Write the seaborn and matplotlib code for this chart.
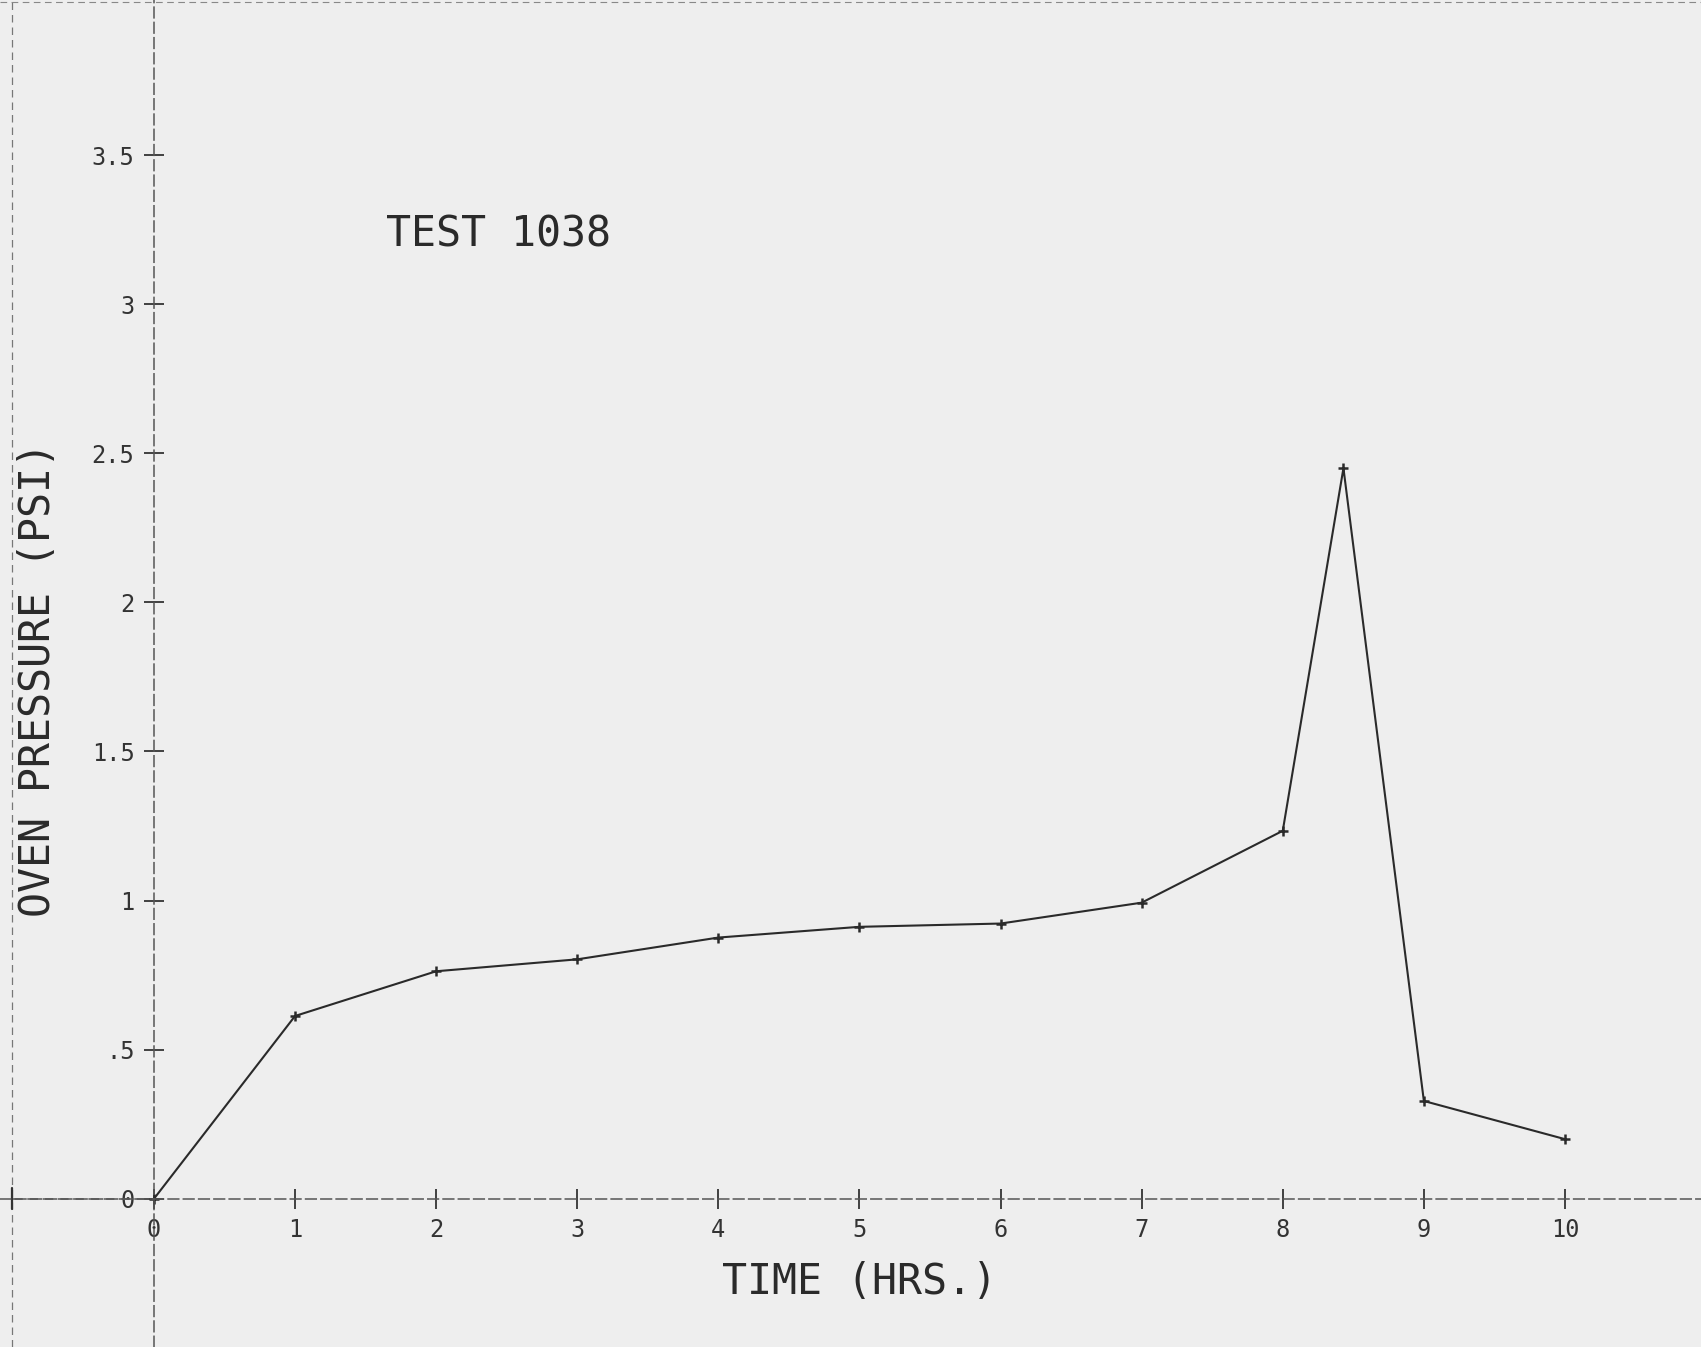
import matplotlib
matplotlib.use('Agg')
import matplotlib.pyplot as plt
import seaborn as sns
import pandas as pd

# ---- data ----
hours = [0, 1, 2, 3, 4, 5, 6, 7, 8, 8.43, 9, 10]
pressure = [0.0, 0.613, 0.763, 0.803, 0.876, 0.912, 0.923, 0.993, 1.234, 2.45, 0.328, 0.20]
x_ticks = [0, 1, 2, 3, 4, 5, 6, 7, 8, 9, 10]
x_tick_labels = ['0', '1', '2', '3', '4', '5', '6', '7', '8', '9', '10']
y_ticks = [0, 0.5, 1, 1.5, 2, 2.5, 3, 3.5]
y_tick_labels = ['0', '.5', '1', '1.5', '2', '2.5', '3', '3.5']
title_text = 'TEST 1038'
x_label = 'TIME (HRS.)'
y_label = 'OVEN PRESSURE (PSI)'

df = pd.DataFrame({'hours': hours, 'pressure': pressure})

sns.set_theme(style='white')
plt.rcParams['font.family'] = ['DejaVu Sans Mono', 'DejaVu Sans']

bg = '#eeeeee'
ink = '#2a2a2a'
fig = plt.figure(figsize=(17.01, 13.47), dpi=100, facecolor=bg)
ax = fig.add_axes([0, 0, 1, 1])
ax.set_facecolor(bg)

sns.lineplot(data=df, x='hours', y='pressure', sort=False, ax=ax,
             color=ink, linewidth=1.5, marker='+', markersize=7,
             markeredgewidth=1.8, markeredgecolor=ink)

ax.set_xlim(-1.091, 10.964)
ax.set_ylim(-0.497, 4.02)

for side in ['top', 'right']:
    ax.spines[side].set_visible(False)
for side in ['left', 'bottom']:
    ax.spines[side].set_position(('data', 0))
    ax.spines[side].set_color('#555555')
    ax.spines[side].set_linewidth(1.1)
    ax.spines[side].set_linestyle((0, (7, 3)))

ax.set_xticks(x_ticks)
ax.set_xticklabels(x_tick_labels)
ax.set_yticks(y_ticks)
ax.set_yticklabels(y_tick_labels)
ax.tick_params(axis='both', bottom=True, left=True, direction='inout',
               length=14, width=1.3, colors='#333333', labelsize=17, pad=7)
ax.set_xlabel('')
ax.set_ylabel('')

# page border remnants of the scan
ax.axvline(-1.006, color='#777777', lw=0.9, ls=(0, (6, 4)))
ax.axhline(4.012, color='#888888', lw=0.8, ls=(0, (6, 4)))
ax.plot([-1.006, 0.0], [0, 0], color='#555555', lw=1.1, ls=(0, (7, 3)))
ax.plot([-1.006, -1.006], [-0.035, 0.035], color='#333333', lw=1.6)

ax.text(2.44, 3.235, title_text, fontsize=30, color=ink, ha='center', va='center')
ax.text(5.0, -0.28, x_label, fontsize=30, color=ink, ha='center', va='center')
ax.text(-0.82, 1.74, y_label, fontsize=30, color=ink, ha='center', va='center',
        rotation=90)

fig.savefig('out.png', dpi=100, facecolor=bg)
